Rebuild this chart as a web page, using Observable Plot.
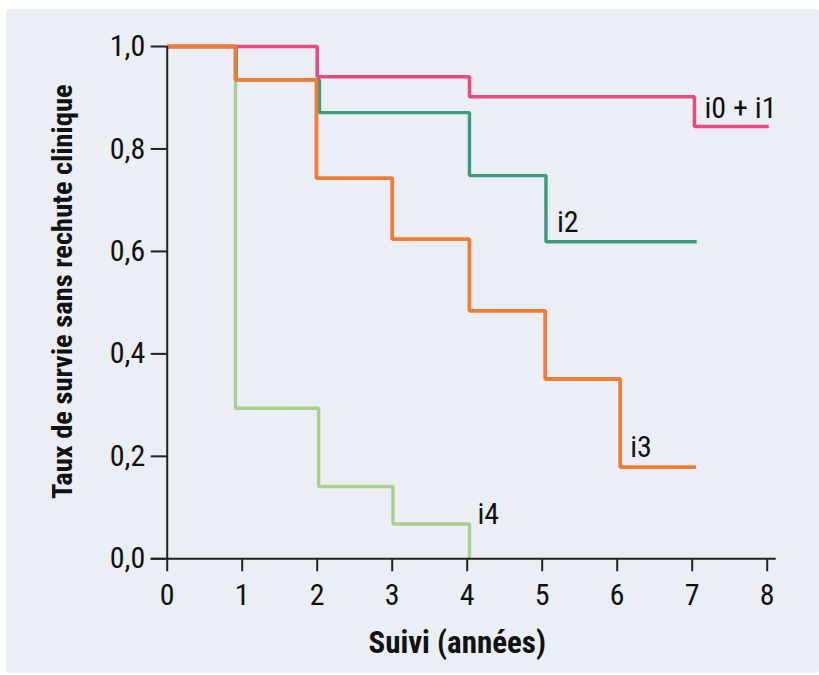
<!DOCTYPE html>
<html><head><meta charset="utf-8">
<script src="https://cdn.jsdelivr.net/npm/d3@7"></script>
<script src="https://cdn.jsdelivr.net/npm/@observablehq/plot@0.6"></script>
<style>
html,body{margin:0;padding:0;background:#fff;}
#wrap{position:relative;width:819px;height:675px;}
#panel{position:absolute;left:6px;top:9px;width:813px;height:664px;background:#ebeef4;border-radius:3px;}
#chart{position:absolute;left:0;top:0;}
</style></head><body>
<div id="wrap"><div id="panel"></div><div id="chart"></div></div>
<script>
// Tick values
const yearTicks = [0, 1, 2, 3, 4, 5, 6, 7, 8];
const rateTicks = [0, 0.2, 0.4, 0.6, 0.8, 1.0];

// Series (time in years, survival rate), step curves
const seriesNames = ["i0 + i1", "i2", "i3", "i4"];
const i01Time = [0, 2.0, 4.03, 7.03, 8.02];
const i01Surv = [1, 0.941, 0.902, 0.844, 0.844];
const i2Time = [0, 0.92, 2.03, 4.03, 5.05, 7.06];
const i2Surv = [1, 0.935, 0.871, 0.748, 0.619, 0.619];
const i3Time = [0, 0.91, 1.99, 3.0, 4.03, 5.04, 6.04, 7.05];
const i3Surv = [1, 0.935, 0.743, 0.624, 0.484, 0.351, 0.179, 0.179];
const i4Time = [0, 0.91, 2.02, 3.01, 4.03];
const i4Surv = [1, 0.294, 0.141, 0.068, 0];

const colors = ["#e9497f", "#3d9a7f", "#f07d37", "#a9d18e"];

const rows = (name, T, S) => T.map((t, i) => ({series: name, t, s: S[i]}));
const d01 = rows(seriesNames[0], i01Time, i01Surv);
const d2 = rows(seriesNames[1], i2Time, i2Surv);
const d3 = rows(seriesNames[2], i3Time, i3Surv);
const d4 = rows(seriesNames[3], i4Time, i4Surv);

const FONT = "'Liberation Sans Narrow', 'Roboto Condensed', 'DejaVu Sans Condensed', 'Liberation Sans', sans-serif";
const lineOpts = (c, w) => ({x: "t", y: "s", curve: "step-after", stroke: c, strokeWidth: w, strokeLinejoin: "miter", strokeLinecap: "butt"});
const seriesLabel = (d, idx, txt, dx, dy) => Plot.text([d[idx]], {x: "t", y: "s", text: () => txt, textAnchor: "start", lineAnchor: "bottom", dx, dy, fontSize: 30, fill: "#111"});

const chart = Plot.plot({
  width: 819, height: 675,
  marginLeft: 166.7, marginRight: 52.3, marginTop: 46, marginBottom: 116.7,
  style: {background: "transparent", fontFamily: FONT, color: "#111"},
  x: {domain: [0, 8]},
  y: {domain: [0, 1]},
  marks: [
    Plot.line(d4, lineOpts(colors[3], 3.4)),
    Plot.line(d2, lineOpts(colors[1], 3.4)),
    Plot.line(d01, lineOpts(colors[0], 3.5)),
    Plot.line(d3, lineOpts(colors[2], 3.8)),
    Plot.ruleY([0], {stroke: "#222", strokeWidth: 2, insetLeft: -16, insetRight: -9}),
    Plot.ruleX([0], {stroke: "#222", strokeWidth: 2}),
    Plot.axisY(rateTicks, {tickSize: 16, tickPadding: 6, stroke: "#222", strokeWidth: 2, fontSize: 30, label: null,
      tickFormat: d => d.toFixed(1).replace(".", ",")}),
    Plot.axisX(yearTicks, {tickSize: 13, tickPadding: 12, stroke: "#222", strokeWidth: 2, fontSize: 30, label: null,
      tickFormat: d => String(d)}),
    Plot.text(["Suivi (années)"], {frameAnchor: "bottom", text: d => d, textAnchor: "middle", lineAnchor: "middle",
      dx: -10, dy: 84, fontSize: 31, fontWeight: "bold", fill: "#111"}),
    Plot.text(["Taux de survie sans rechute clinique"], {frameAnchor: "left", text: d => d, textAnchor: "middle", lineAnchor: "middle",
      rotate: -90, dx: -104, dy: -11, fontSize: 28.5, fontWeight: "bold", fill: "#111"}),
    seriesLabel(d01, 3, seriesNames[0], 10, -8.7),
    seriesLabel(d2, 4, seriesNames[1], 11, -9.6),
    seriesLabel(d3, 6, seriesNames[2], 10, -10),
    seriesLabel(d4, 4, seriesNames[3], 8, -35)
  ]
});
document.getElementById("chart").appendChild(chart);
</script>
</body></html>
